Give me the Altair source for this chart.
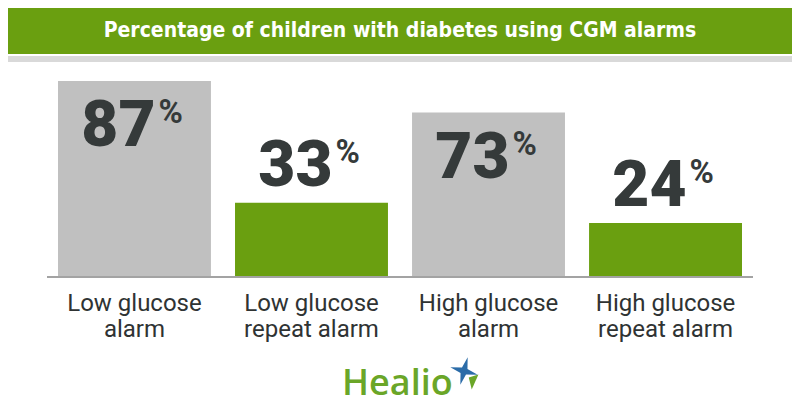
import altair as alt
import pandas as pd

title_text = "Percentage of children with diabetes using CGM alarms"
categories = ["Low glucose alarm", "Low glucose repeat alarm", "High glucose alarm", "High glucose repeat alarm"]
label_lines = ["Low glucose\nalarm", "Low glucose\nrepeat alarm", "High glucose\nalarm", "High glucose\nrepeat alarm"]
values = [87, 33, 73, 24]
alarm_kind = ["Initial", "Repeat", "Initial", "Repeat"]
kind_domain = ["Initial", "Repeat"]
kind_colors = ["#c0c0c0", "#6a9f10"]
brand = "Healio"

df = pd.DataFrame({
    "category": categories,
    "label": label_lines,
    "value": values,
    "kind": alarm_kind,
})

W, H = 784, 404
x_enc = alt.X("category:N", sort=categories, axis=None,
              scale=alt.Scale(range=[50, 734], paddingInner=0.136, paddingOuter=0))
y_scale = alt.Scale(domain=[-59.9, 119.4], nice=False, zero=False)

base = alt.Chart(df)

bars = base.mark_bar().encode(
    x=x_enc,
    y=alt.Y("value:Q", scale=y_scale, axis=None),
    y2=alt.datum(0),
    color=alt.Color("kind:N", scale=alt.Scale(domain=kind_domain, range=kind_colors), legend=None),
)

num_font = "Roboto"
dark = "#353a3a"

def num_layer(kind, dy_num, dy_pct):
    b = base.transform_filter(alt.datum.kind == kind)
    n = b.mark_text(font=num_font, fontWeight=900, fontSize=64, color=dark,
                    align="right", baseline="alphabetic", dx=21, dy=dy_num).encode(
        x=x_enc, y=alt.Y("value:Q", scale=y_scale), text=alt.Text("value:Q"))
    p = b.mark_text(font=num_font, fontWeight="bold", fontSize=33, color=dark,
                    align="left", baseline="alphabetic", dx=24, dy=dy_pct).encode(
        x=x_enc, y=alt.Y("value:Q", scale=y_scale), text=alt.value("%"))
    return n + p

nums_gray = num_layer("Initial", 65, 42)
nums_green = num_layer("Repeat", -17, -40)

axis_rule = base.mark_rule(color="#a3a3a3", strokeWidth=1.5).encode(
    x=alt.value(39), x2=alt.value(745), y=alt.Y("zero:Q", scale=y_scale)
).transform_calculate(zero="0")

cat_labels = base.mark_text(font="Roboto", fontSize=24, color="#2f3333", align="center",
                            baseline="alphabetic", lineBreak="\n", lineHeight=26, dy=34).encode(
    x=x_enc, y=alt.Y("zero:Q", scale=y_scale), text="label:N"
).transform_calculate(zero="0")

hdr = alt.Chart(pd.DataFrame({"t": [title_text]}))
header_rect = hdr.mark_rect(color="#6a9f10").encode(
    x=alt.value(0), x2=alt.value(W), y=alt.value(0), y2=alt.value(46))
header_strip = hdr.mark_rect(color="#d9d9d9").encode(
    x=alt.value(0), x2=alt.value(W), y=alt.value(48), y2=alt.value(54))
header_text = hdr.mark_text(font='"DejaVu Sans Condensed", sans-serif',
                            fontWeight="bold", fontSize=21, color="white",
                            align="center", baseline="alphabetic").encode(
    x=alt.value(392), y=alt.value(29), text="t:N")

logo = alt.Chart(pd.DataFrame({"b": [brand]}))
logo_text = logo.mark_text(font="Open Sans", fontWeight=600, fontSize=36, color="#6aa628",
                           align="left", baseline="alphabetic").encode(
    x=alt.value(334), y=alt.value(387), text="b:N")
swoosh_path = "M-0.3,-0.6 L1,-1 L0.1,1 Z"
logo_swoosh = logo.mark_point(shape=swoosh_path, filled=True, color="#6aa628", size=220, opacity=1).encode(
    x=alt.value(463), y=alt.value(374))
star_path = "M0,-1 L0.2,-0.2 L1,0 L0.2,0.2 L0,1 L-0.2,0.2 L-1,0 L-0.2,-0.2 Z"
logo_star = logo.mark_point(shape=star_path, filled=True, color="#2b6ca8", size=800, angle=15, opacity=1).encode(
    x=alt.value(456), y=alt.value(363))

chart = alt.layer(
    header_rect, header_strip, header_text,
    bars, axis_rule, nums_gray, nums_green, cat_labels,
    logo_text, logo_swoosh, logo_star,
).properties(
    width=W, height=H,
    autosize=alt.AutoSizeParams(type="none"),
    padding=0,
).configure_view(stroke=None)

chart.save("out.html", embed_options={"renderer": "svg", "actions": False})
